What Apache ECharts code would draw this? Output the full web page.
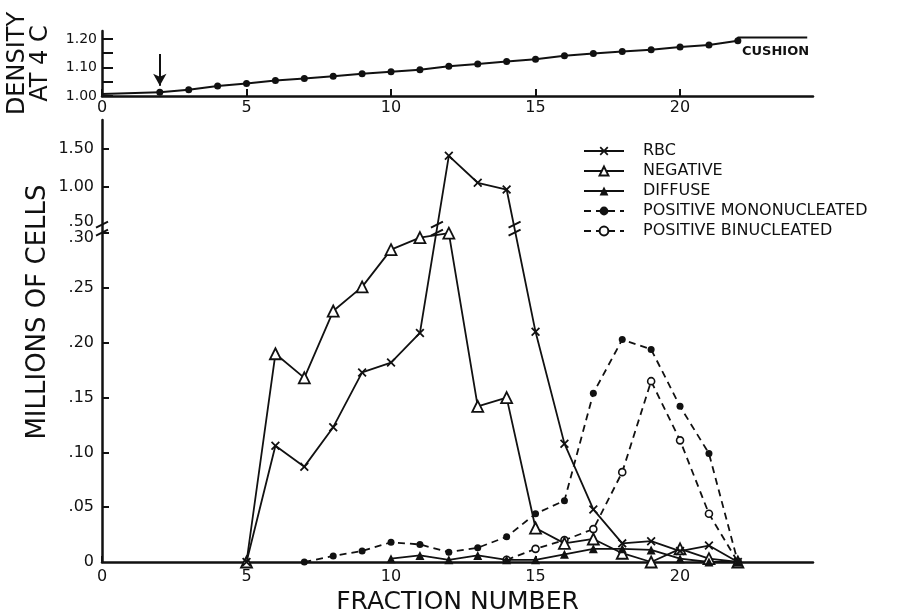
<!DOCTYPE html>
<html>
<head>
<meta charset="utf-8">
<script src="https://cdn.jsdelivr.net/npm/echarts@6.0.0/dist/echarts.min.js"></script>
<style>
  html, body { margin: 0; padding: 0; background: #fff; }
  #chart { width: 911px; height: 612px; }
</style>
</head>
<body>
<div id="chart"></div>
<script>
// density gradient (top panel)
var densX = [2, 3, 4, 5, 6, 7, 8, 9, 10, 11, 12, 13, 14, 15, 16, 17, 18, 19, 20, 21, 22];
var dens = [1.013, 1.022, 1.035, 1.044, 1.054, 1.061, 1.069, 1.078, 1.085, 1.092, 1.104,
            1.112, 1.121, 1.129, 1.141, 1.149, 1.156, 1.162, 1.172, 1.179, 1.194];
var preX = [0, 2];
var pre = [1.007, 1.013];
var cushX = [22, 22, 24.4];
var cush = [1.194, 1.205, 1.205];

// cell counts (millions), main panel
var rbcX = [5, 6, 7, 8, 9, 10, 11, 12, 13, 14, 15, 16, 17, 18, 19, 20, 21, 22];
var rbc = [0, .106, .087, .123, .173, .182, .209, 1.41, 1.05, .96, .210, .108, .048, .017, .019, .010, .015, 0];
var negX = [5, 6, 7, 8, 9, 10, 11, 12, 13, 14, 15, 16, 17, 18, 19, 20, 21, 22];
var neg = [0, .190, .168, .229, .251, .285, .296, .30, .142, .150, .031, .017, .021, .008, 0, .012, .003, 0];
var diffX = [10, 11, 12, 13, 14, 15, 16, 17, 18, 19, 20, 21, 22];
var diff = [.003, .006, .002, .006, .002, .002, .007, .012, .012, .011, .003, 0, 0];
var monoX = [7, 8, 9, 10, 11, 12, 13, 14, 15, 16, 17, 18, 19, 20, 21, 22];
var mono = [0, .0055, .010, .018, .016, .009, .013, .023, .044, .056, .154, .203, .194, .142, .099, 0];
var binX = [14, 15, 16, 17, 18, 19, 20, 21, 22];
var bin = [.002, .012, .020, .030, .082, .165, .111, .044, 0];

var xTicks = [0, 5, 10, 15, 20];
var densTicks = [1.00, 1.05, 1.10, 1.15, 1.20];
var densLabels = [1.00, 1.10, 1.20];
var yTickVals = [.05, .10, .15, .20, .25, .30, 1.00, 1.50];
var yLabelVals = [0, .05, .10, .15, .20, .25, .30, .50, 1.00, 1.50];
var yLabelText = ['0', '.05', '.10', '.15', '.20', '.25', '.30', '.50', '1.00', '1.50'];

// broken y axis: below .30 linear, above .50 compressed
var BREAK_LO = 0.30, BREAK_HI = 0.50, UPPER_BASE = 0.3084, UPPER_SCALE = 0.0684;
function toAxis(v) {
    if (v <= BREAK_LO) return v;
    if (v >= BREAK_HI) return UPPER_BASE + (v - BREAK_HI) * UPPER_SCALE;
    return BREAK_LO + (v - BREAK_LO) / (BREAK_HI - BREAK_LO) * (UPPER_BASE - BREAK_LO);
}
// the two labels either side of the break sit a little apart, as in the figure
function labelPos(v) {
    if (v === BREAK_LO) return toAxis(v) - 0.004;
    if (v === BREAK_HI) return toAxis(v) + 0.002;
    return toAxis(v);
}
function pairs(xs, ys, f) {
    return xs.map(function(x, i) { return [x, f ? f(ys[i]) : ys[i]]; });
}

var FONT = 'DejaVu Sans';
var INK = '#111';
var xCross = 'path://M0,1.4L1.4,0L5,3.6L8.6,0L10,1.4L6.4,5L10,8.6L8.6,10L5,6.4L1.4,10L0,8.6L3.6,5Z';

var myChart = echarts.init(document.getElementById('chart'));

var axisLineStyle = { show: true, onZero: false, lineStyle: { color: INK, width: 2.5 } };

var option = {
    animation: false,
    backgroundColor: '#fff',
    textStyle: { fontFamily: FONT, color: INK },
    grid: [
        { left: 102, right: 98, top: 31, height: 65, outerBoundsMode: 'none' },
        { left: 102, right: 98, top: 120, bottom: 50, outerBoundsMode: 'none' }
    ],
    xAxis: [{
        gridIndex: 0, type: 'value', min: 0, max: 24.6,
        axisLine: axisLineStyle, splitLine: { show: false },
        axisTick: { inside: true, length: 7, customValues: xTicks, lineStyle: { width: 2, color: INK } },
        axisLabel: { customValues: xTicks, fontSize: 16, color: INK, margin: 4, fontFamily: FONT }
    }, {
        gridIndex: 1, type: 'value', min: 0, max: 24.6,
        axisLine: axisLineStyle, splitLine: { show: false },
        axisTick: { inside: true, length: 6, customValues: xTicks, lineStyle: { width: 2, color: INK } },
        axisLabel: { customValues: xTicks, fontSize: 16, color: INK, margin: 7, fontFamily: FONT },
        name: 'FRACTION NUMBER', nameLocation: 'middle', nameGap: 27,
        nameTextStyle: { fontSize: 25, color: INK, fontFamily: FONT }
    }],
    yAxis: [{
        gridIndex: 0, type: 'value', min: 1.0, max: 1.228,
        axisLine: axisLineStyle, splitLine: { show: false },
        axisTick: { inside: true, length: 11, customValues: densTicks, lineStyle: { width: 2, color: INK } },
        axisLabel: {
            customValues: densLabels, fontSize: 14, color: INK, margin: 5, fontFamily: FONT,
            formatter: function(v) { return v.toFixed(2); }
        },
        name: 'DENSITY\nAT 4 C', nameLocation: 'middle', nameGap: 50, nameRotate: 90,
        nameTextStyle: { fontSize: 24, lineHeight: 23, color: INK, fontFamily: FONT }
    }, {
        gridIndex: 1, type: 'value', min: 0, max: 0.4033,
        axisLine: axisLineStyle, splitLine: { show: false },
        axisTick: { inside: true, length: 7, customValues: yTickVals.map(toAxis), lineStyle: { width: 2, color: INK } },
        axisLabel: {
            customValues: yLabelVals.map(labelPos), fontSize: 16, color: INK, margin: 8, fontFamily: FONT,
            formatter: function(v) {
                var best = 0;
                yLabelVals.forEach(function(l, i) {
                    if (Math.abs(labelPos(l) - v) < Math.abs(labelPos(yLabelVals[best]) - v)) best = i;
                });
                return yLabelText[best];
            }
        }
    }],
    legend: {
        orient: 'vertical', left: 578, top: 138, itemWidth: 40, itemHeight: 11, itemGap: 4,
        textStyle: { fontSize: 16, color: INK, fontFamily: FONT, padding: [0, 0, 0, 14] },
        data: ['RBC', 'NEGATIVE', 'DIFFUSE', 'POSITIVE MONONUCLEATED', 'POSITIVE BINUCLEATED']
    },
    series: [{
        name: 'pre', type: 'line', xAxisIndex: 0, yAxisIndex: 0, data: pairs(preX, pre),
        symbol: 'none', lineStyle: { color: INK, width: 2 }
    }, {
        name: 'density', type: 'line', xAxisIndex: 0, yAxisIndex: 0, data: pairs(densX, dens),
        symbol: 'circle', symbolSize: 7, itemStyle: { color: INK }, lineStyle: { color: INK, width: 2 },
        markLine: {
            silent: true, symbol: ['none', 'arrow'], symbolSize: [10, 12],
            lineStyle: { color: INK, width: 2, type: 'solid' }, label: { show: false },
            data: [[{ coord: [2, 1.147] }, { coord: [2, 1.036] }]]
        }
    }, {
        name: 'cushion', type: 'line', xAxisIndex: 0, yAxisIndex: 0, data: pairs(cushX, cush),
        symbol: 'none', lineStyle: { color: INK, width: 2 }
    }, {
        name: 'RBC', type: 'line', xAxisIndex: 1, yAxisIndex: 1, data: pairs(rbcX, rbc, toAxis),
        symbol: xCross, symbolSize: 9, itemStyle: { color: INK },
        lineStyle: { color: INK, width: 1.8 }, z: 4
    }, {
        name: 'NEGATIVE', type: 'line', xAxisIndex: 1, yAxisIndex: 1, data: pairs(negX, neg, toAxis),
        symbol: 'triangle', symbolSize: 11, itemStyle: { color: '#fff', borderColor: INK, borderWidth: 1.8 },
        lineStyle: { color: INK, width: 1.8 }, z: 3
    }, {
        name: 'DIFFUSE', type: 'line', xAxisIndex: 1, yAxisIndex: 1, data: pairs(diffX, diff, toAxis),
        symbol: 'triangle', symbolSize: 9, itemStyle: { color: INK },
        lineStyle: { color: INK, width: 1.8 }, z: 3
    }, {
        name: 'POSITIVE MONONUCLEATED', type: 'line', xAxisIndex: 1, yAxisIndex: 1, data: pairs(monoX, mono, toAxis),
        symbol: 'circle', symbolSize: 7, itemStyle: { color: INK },
        lineStyle: { color: INK, width: 1.8, type: [7, 5] }, z: 2
    }, {
        name: 'POSITIVE BINUCLEATED', type: 'line', xAxisIndex: 1, yAxisIndex: 1, data: pairs(binX, bin, toAxis),
        symbol: 'circle', symbolSize: 7, itemStyle: { color: '#fff', borderColor: INK, borderWidth: 1.6 },
        lineStyle: { color: INK, width: 1.8, type: [7, 5] }, z: 2
    }]
};

myChart.setOption(option);

// break marks: on the y axis and where RBC crosses the break
var mid = (BREAK_LO + UPPER_BASE) / 2;
function slashPair(p, whiteW) {
    return {
        type: 'group', x: p[0], y: p[1], z: 100,
        children: [
            { type: 'rect', shape: { x: -whiteW / 2, y: -3, width: whiteW, height: 6 }, style: { fill: '#fff' } },
            { type: 'line', shape: { x1: -6, y1: -1, x2: 6, y2: -7 }, style: { stroke: INK, lineWidth: 2 } },
            { type: 'line', shape: { x1: -6, y1: 7, x2: 6, y2: 1 }, style: { stroke: INK, lineWidth: 2 } }
        ]
    };
}
var graphics = [];
graphics.push(slashPair(myChart.convertToPixel({ gridIndex: 1 }, [0, mid]), 12));
[[11, 12], [14, 15]].forEach(function(seg) {
    var i0 = rbcX.indexOf(seg[0]), i1 = rbcX.indexOf(seg[1]);
    var d0 = toAxis(rbc[i0]), d1 = toAxis(rbc[i1]);
    var t = (mid - d0) / (d1 - d0);
    var x = seg[0] + t * (seg[1] - seg[0]);
    graphics.push(slashPair(myChart.convertToPixel({ gridIndex: 1 }, [x, mid]), 8));
});
graphics.push({
    type: 'text', x: 38, y: 312, rotation: Math.PI / 2,
    style: { text: 'MILLIONS OF CELLS', font: '26px "DejaVu Sans"', fill: INK, align: 'center', verticalAlign: 'middle' }
});
graphics.push({
    type: 'text', left: 742, top: 45,
    style: { text: 'CUSHION', font: 'bold 13px "DejaVu Sans"', fill: INK }
});
myChart.setOption({ graphic: graphics });
</script>
</body>
</html>
